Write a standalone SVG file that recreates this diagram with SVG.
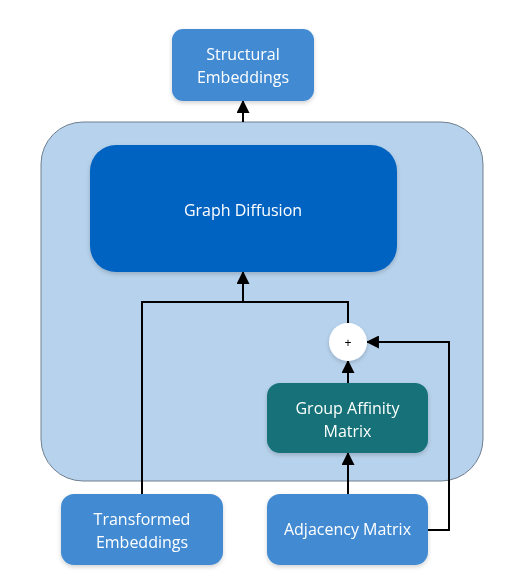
<svg xmlns="http://www.w3.org/2000/svg" width="518" height="584" viewBox="0 0 518 584">
<defs>
<style>
.lbl{font-family:"Open Sans","Liberation Sans",sans-serif;font-size:16px;fill:#ffffff;text-anchor:middle}
.blue{fill:#428bd3}
.conn{fill:none;stroke:#000;stroke-width:2}
</style>
<marker id="arr" viewBox="0 0 12 12" refX="11" refY="6" markerWidth="13" markerHeight="13" orient="auto" markerUnits="userSpaceOnUse">
<path d="M0,0 L12,6 L0,12 z" fill="#000"/>
</marker>
<filter id="sh" x="-10%" y="-10%" width="120%" height="130%">
<feDropShadow dx="0" dy="2" stdDeviation="2" flood-color="#000" flood-opacity="0.18"/>
</filter>
</defs>
<rect width="518" height="584" fill="#ffffff"/>
<g id="container">
<rect x="41" y="122" width="442" height="359" rx="42" fill="#b7d2ec" stroke="#6f7f8f" stroke-width="1"/>
</g>
<g id="connectors">
<line class="conn" x1="243" y1="122" x2="243" y2="101" marker-end="url(#arr)"/>
<polyline class="conn" points="142,494 142,302 348,302 348,323"/>
<line class="conn" x1="243" y1="302" x2="243" y2="272" marker-end="url(#arr)"/>
<line class="conn" x1="348" y1="383" x2="348" y2="361" marker-end="url(#arr)"/>
<line class="conn" x1="348" y1="494" x2="348" y2="453" marker-end="url(#arr)"/>
<polyline class="conn" points="428,530 449,530 449,342 367,342" marker-end="url(#arr)"/>
</g>
<g id="structural-embeddings" filter="url(#sh)">
<rect class="blue" x="172" y="29" width="142" height="72" rx="11"/>
<text class="lbl" x="243" y="60">Structural</text>
<text class="lbl" x="243" y="83">Embeddings</text>
</g>
<g id="graph-diffusion" filter="url(#sh)">
<rect x="90" y="145" width="307" height="127" rx="26" fill="#0563c1"/>
<text class="lbl" x="243" y="216">Graph Diffusion</text>
</g>
<g id="plus" filter="url(#sh)">
<circle cx="348" cy="342" r="19" fill="#ffffff"/>
<text x="348" y="346.5" font-family="'Liberation Sans',sans-serif" font-size="12" text-anchor="middle" fill="#000">+</text>
</g>
<g id="group-affinity-matrix" filter="url(#sh)">
<rect x="267" y="383" width="161" height="70" rx="13" fill="#137178"/>
<text class="lbl" x="347.5" y="414">Group Affinity</text>
<text class="lbl" x="347.5" y="437">Matrix</text>
</g>
<g id="transformed-embeddings" filter="url(#sh)">
<rect class="blue" x="61" y="494" width="162" height="71" rx="13"/>
<text class="lbl" x="142" y="525">Transformed</text>
<text class="lbl" x="142" y="548">Embeddings</text>
</g>
<g id="adjacency-matrix" filter="url(#sh)">
<rect class="blue" x="267" y="494" width="161" height="71" rx="13"/>
<text class="lbl" x="347.5" y="535">Adjacency Matrix</text>
</g>
</svg>
